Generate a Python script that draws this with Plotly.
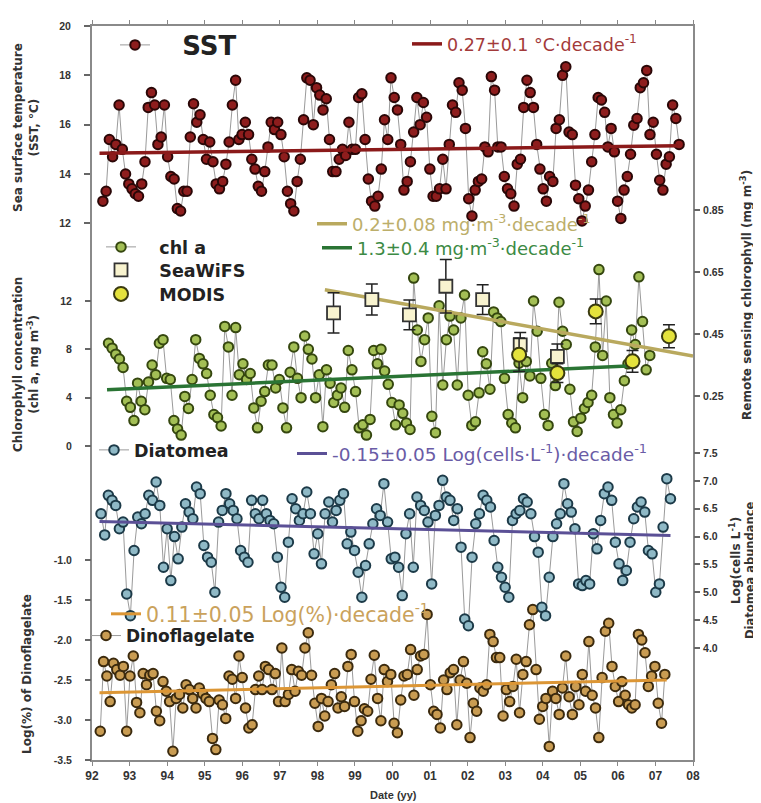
import plotly.graph_objects as go

# ---------------- data ----------------
year_ticks = [92, 93, 94, 95, 96, 97, 98, 99, 100, 101, 102, 103, 104, 105, 106, 107, 108]
year_labels = ["92", "93", "94", "95", "96", "97", "98", "99", "00", "01", "02", "03",
               "04", "05", "06", "07", "08"]

sst_span = [92.29, 107.63]
sst = [12.9, 13.3, 15.4, 14.7, 15.2, 16.8, 15.0, 14.0,
       13.6, 13.4, 13.2, 13.1, 13.6, 14.5, 16.7, 17.3, 16.8, 15.2, 15.5, 16.8, 14.7, 13.9, 13.8,
       12.6, 12.5, 13.3, 13.3, 15.5, 16.85, 16.1, 16.4, 15.4, 14.6, 15.3, 14.5,
       13.6, 13.4, 13.7, 14.4, 15.3, 16.8, 17.8, 15.4, 15.6, 16.1, 15.6, 14.6,
       14.2, 13.5, 13.3, 14.1, 15.1, 16.1, 15.8, 16.1, 15.6, 14.7, 13.3, 12.8,
       12.5, 13.7, 14.6, 16.2, 17.9, 17.8, 16.0, 17.5, 17.2, 16.6, 17.05, 15.4,
       14.1, 14.1, 14.6, 15.0, 14.75, 16.1, 15.0, 15.0, 17.1, 17.25, 15.4, 13.8,
       12.9, 12.7, 13.1, 14.2, 16.2, 15.4, 17.9, 17.1, 16.6, 15.2,
       13.35, 13.7, 14.5, 15.7, 17.1, 16.0, 16.9, 16.3, 14.2, 13.1, 13.1,
       13.4, 14.6, 13.4, 15.2, 16.8, 16.5, 17.7, 17.4, 15.85, 13.0, 12.3, 13.35,
       13.7, 13.8, 15.1, 14.9, 17.95, 17.4, 15.1, 15.1, 13.9, 13.4, 13.2, 12.7,
       14.4, 14.6, 16.7, 17.8, 17.3, 16.7, 15.2, 14.2, 13.4, 12.9,
       13.9, 13.7, 15.85, 16.2, 18.0, 18.35, 15.7, 15.6, 13.55, 13.0,
       12.1, 12.7, 13.35, 14.5, 15.6, 17.1, 17.0, 16.5, 15.1, 15.85, 14.9, 12.9, 12.2,
       13.35, 13.9, 14.8, 15.98, 16.25, 17.5, 17.7, 18.2, 15.6, 16.1, 14.8,
       13.75, 13.35, 14.4, 14.7, 16.8, 16.25, 15.2]

chl_span = [92.44, 106.85]
chl = [8.5, 8.1, 7.6, 7.2, 6.5, 3.7, 3.2, 2.1, 5.2, 3.7, 3.0, 5.3, 6.7, 5.9, 8.5, 8.8, 5.6, 5.5,
       2.1, 1.4, 0.9, 4.1, 3.1, 5.5, 8.8, 7.25, 6.8, 6.0, 4.2, 2.6, 2.35, 1.65, 9.9, 8.2, 4.2, 9.8,
       5.9, 6.8, 5.5, 6.0, 3.15, 1.5, 3.7, 4.5, 6.7, 6.7, 4.8, 5.5, 3.15, 1.5, 6.1, 8.2, 5.6, 4.0,
       9.1, 8.0, 7.2, 4.0, 5.9, 1.6, 6.3, 5.2, 3.6, 4.2, 4.8, 3.2, 7.9, 6.3, 4.5, 1.5, 1.75, 0.9,
       2.2, 7.9, 6.8, 8.0, 6.2, 5.1, 3.6, 1.75,
       3.4, 2.7, 1.9, 1.36, 13.9, 9.6, 7.0, 8.8, 10.6, 2.45, 1.1, 11.6, 5.05, 8.8, 10.75, 9.6,
       5.05, 10.6, 12.5, 4.2, 1.7, 2.0, 4.4, 7.8, 6.8, 4.7, 11.1, 10.6, 10.3, 5.6, 2.6, 1.9, 1.5,
       6.85, 4.0, 7.0, 5.8, 12.0, 9.5, 5.6, 2.6, 1.7, 6.85, 5.0, 11.9, 9.5, 8.4, 4.7, 2.0, 1.2,
       2.3, 3.1, 3.6, 4.2, 8.2, 14.6, 7.5, 12.0, 4.0, 2.6, 1.9, 3.0, 5.4, 6.8, 9.6, 8.4, 14.0,
       10.3, 6.3, 7.5]

seawifs_x = [98.43, 99.45, 100.45, 101.42, 102.40, 103.40, 104.39]
seawifs_y = [0.518, 0.561, 0.512, 0.604, 0.561, 0.415, 0.378]
seawifs_err = [0.065, 0.05, 0.048, 0.086, 0.048, 0.04, 0.04]

modis_x = [103.37, 104.39, 105.41, 106.39, 107.36]
modis_y = [0.383, 0.324, 0.523, 0.362, 0.443]
modis_err = [0.054, 0.03, 0.04, 0.035, 0.037]

dia_span = [92.24, 107.40]
diatom = [6.41, 6.03, 6.74, 6.65, 6.56, 6.14, 6.26, 4.97, 4.58, 5.75, 6.35, 6.23, 6.41, 6.74,
          6.65, 6.98, 6.56, 5.45, 6.14, 5.21, 6.0, 5.6, 6.17, 6.59, 6.44, 6.32, 6.89, 6.77,
          5.84, 5.63, 5.54, 5.0, 6.26, 6.47, 6.77, 6.59, 6.47, 6.32, 5.75, 5.63, 5.54, 6.65,
          6.41, 6.32, 6.65, 6.41, 6.29, 6.23, 5.63, 5.09, 4.91, 5.9, 6.68, 6.5, 6.29, 6.41,
          6.8, 6.41, 5.69, 6.05, 5.51, 6.41, 6.62, 6.26, 6.47, 6.65, 6.77, 5.87, 6.08, 5.75,
          5.36, 4.91, 5.48, 5.87, 6.23, 6.5, 6.38, 6.95, 6.26, 5.6,
          5.63, 5.45, 4.94, 6.05, 6.41, 5.45, 6.71, 6.56, 6.47, 6.26, 5.15, 6.38, 6.56, 7.01,
          6.71, 6.65, 6.29, 6.5, 5.81, 4.52, 4.4, 5.63, 6.23, 6.41, 6.74, 6.65, 6.53, 5.93,
          5.45, 5.27, 5.09, 4.91, 6.29, 6.41, 6.47, 6.68, 6.62, 6.41, 6.0, 5.72, 4.73, 4.58,
          5.27, 6.0, 6.23, 6.41, 6.95, 6.59, 6.44, 6.14, 5.15, 5.12, 5.21, 5.15, 6.05, 5.78,
          6.29, 6.77, 6.89, 6.65, 5.9, 5.51, 5.21, 5.39, 5.9, 6.32, 6.53, 6.62, 6.44, 5.75,
          5.69, 5.0, 5.15, 6.17, 7.04, 6.68]

dino_span = [92.22, 107.25]
dino = [-3.14, -2.27, -2.45, -2.77, -2.29, -2.37, -2.44, -2.33, -3.14, -2.45, -2.2, -2.78,
        -2.91, -2.42, -2.56, -2.44, -2.42, -2.89, -3.01, -2.52, -2.64, -2.77, -3.39, -2.73,
        -2.68, -2.85, -2.56, -2.62, -2.73, -2.85, -2.6, -2.67, -2.73, -2.77, -3.23, -3.37,
        -2.75, -2.81, -2.98, -2.45, -2.49, -2.73, -2.2, -2.47, -2.85, -3.1, -3.06, -2.62,
        -2.45, -2.62, -2.33, -2.37, -2.62, -2.42, -2.77, -2.1, -2.77, -2.68, -2.37, -2.64,
        -2.39, -2.44, -2.1, -1.91, -2.44, -2.79, -3.08, -2.73, -2.95, -2.77, -2.56, -2.42,
        -2.85, -2.71, -2.83, -2.33, -2.18, -2.77, -3.14, -3.01, -2.86, -2.89, -2.49, -2.19,
        -2.73, -3.01, -2.37, -2.52,
        -2.43, -3.04, -3.16, -2.75, -2.45, -2.43, -2.12, -2.69, -2.37, -2.2, -2.18, -1.68,
        -2.56, -2.89, -2.93, -3.1, -2.5, -2.62, -2.41, -2.37, -3.06, -2.5, -2.27, -2.54,
        -3.22, -2.79, -2.89, -2.6, -2.64, -2.56, -1.93, -2.02, -2.22, -2.22, -2.95, -2.62,
        -2.77, -2.58, -2.24, -2.91, -2.43, -2.27, -1.81, -1.62, -2.37, -2.99, -2.83, -2.73,
        -3.33, -2.64, -2.73, -2.93, -2.6, -2.2, -2.71, -2.93, -2.58, -2.81, -2.43, -2.64,
        -2.02, -2.69, -2.85, -3.22, -2.47, -1.89, -1.79, -2.33, -2.58, -2.77, -2.52, -2.69,
        -2.81, -2.85, -2.81, -1.93, -2.0, -2.16, -2.58, -2.45, -2.33, -2.79, -3.04, -2.43]

sst_trend_x, sst_trend_y = [92.2, 107.6], [14.84, 15.15]
chl_trend_x, chl_trend_y = [92.4, 106.4], [4.65, 6.65]
rs_trend_x, rs_trend_y = [98.2, 108.0], [0.593, 0.379]
dia_trend_x, dia_trend_y = [92.2, 107.4], [6.27, 6.02]
dino_trend_x, dino_trend_y = [92.2, 107.3], [-2.66, -2.50]


def spread(span, n):
    a, b = span
    return [a + (b - a) * i / (n - 1) for i in range(n)]


FONT = "Liberation Sans, Arial, sans-serif"
WIDE = "DejaVu Sans, Verdana, sans-serif"
GRAY = "#9a9a9a"
NB = "\u00a0"

fig = go.Figure()

# SST
fig.add_trace(go.Scatter(x=spread(sst_span, len(sst)), y=sst, yaxis="y", mode="lines+markers",
                         name=NB * 3 + "SST", legend="legend",
                         line=dict(color=GRAY, width=1),
                         marker=dict(symbol="circle", size=9.5, color="#8e1d1d",
                                     line=dict(color="#2a0707", width=2))))
fig.add_trace(go.Scatter(x=sst_trend_x, y=sst_trend_y, yaxis="y", mode="lines",
                         name="0.27±0.1 °C·decade<sup>-1</sup>", legend="legend2",
                         line=dict(color="#8b1a1a", width=3.5)))

# chl a
fig.add_trace(go.Scatter(x=spread(chl_span, len(chl)), y=chl, yaxis="y2", mode="lines+markers",
                         name=NB * 3 + "chl a", legend="legend5",
                         line=dict(color=GRAY, width=1),
                         marker=dict(symbol="circle", size=9.5, color="#a3bf55",
                                     line=dict(color="#35470f", width=2))))
fig.add_trace(go.Scatter(x=chl_trend_x, y=chl_trend_y, yaxis="y2", mode="lines",
                         name="1.3±0.4 mg·m<sup>-3</sup>·decade<sup>-1</sup>", legend="legend4",
                         line=dict(color="#2a7434", width=3.5)))
fig.add_trace(go.Scatter(x=rs_trend_x, y=rs_trend_y, yaxis="y4", mode="lines",
                         name="0.2±0.08 mg·m<sup>-3</sup>·decade<sup>-1</sup>", legend="legend3",
                         line=dict(color="#b9a95e", width=3.5)))
fig.add_trace(go.Scatter(x=seawifs_x, y=seawifs_y, yaxis="y4", mode="markers",
                         name=NB * 3 + "SeaWiFS", legend="legend10",
                         error_y=dict(type="data", array=seawifs_err, color="#222",
                                      thickness=1.5, width=6),
                         marker=dict(symbol="square", size=13, color="#f8f3cf",
                                     line=dict(color="#333", width=1.8))))
fig.add_trace(go.Scatter(x=modis_x, y=modis_y, yaxis="y4", mode="markers",
                         name=NB * 3 + "MODIS", legend="legend11",
                         error_y=dict(type="data", array=modis_err, color="#222",
                                      thickness=1.5, width=6),
                         marker=dict(symbol="circle", size=14, color="#e4e23c",
                                     line=dict(color="#3a3a10", width=2))))

# Diatomea
fig.add_trace(go.Scatter(x=spread(dia_span, len(diatom)), y=diatom, yaxis="y5",
                         mode="lines+markers", name="Diatomea", legend="legend6",
                         line=dict(color=GRAY, width=1),
                         marker=dict(symbol="circle", size=9.5, color="#8fb9c6",
                                     line=dict(color="#1c3a48", width=2))))
fig.add_trace(go.Scatter(x=dia_trend_x, y=dia_trend_y, yaxis="y5", mode="lines",
                         name="-0.15±0.05 Log(cells·L<sup>-1</sup>)·decade<sup>-1</sup>",
                         legend="legend7", line=dict(color="#5b5096", width=3)))

# Dinoflagellate
fig.add_trace(go.Scatter(x=spread(dino_span, len(dino)), y=dino, yaxis="y3",
                         mode="lines+markers", name="Dinoflagelate", legend="legend9",
                         line=dict(color=GRAY, width=1),
                         marker=dict(symbol="circle", size=9.5, color="#c99c52",
                                     line=dict(color="#3b2a0e", width=2))))
fig.add_trace(go.Scatter(x=dino_trend_x, y=dino_trend_y, yaxis="y3", mode="lines",
                         name="0.11±0.05 Log(%)·decade<sup>-1</sup>", legend="legend8",
                         line=dict(color="#dc9635", width=3)))

# -------- layout --------
W, H = 761, 803
L, R, T, B = 84, 76, 18, 51
PW, PH = W - L - R, H - T - B


def px(xp):
    return (xp - L) / PW


def py(yp):
    return 1 - (yp - T) / PH


tickfont = dict(family=FONT, size=10.5, color="#333", weight="bold")


def yax(rng, vals, texts, side="left", overlay=True, main=False):
    d = dict(range=rng, tickvals=vals, ticktext=texts, tickfont=tickfont, showgrid=False,
             zeroline=False, ticks="outside", ticklen=6, tickcolor="#666", tickwidth=1.5,
             side=side, ticklabelstandoff=11 if side == "left" else 1)
    if overlay:
        d.update(overlaying="y", anchor="x")
    if main:
        d.update(showline=True, linecolor="#8a8a8a", linewidth=2, mirror=True)
    else:
        d.update(showline=False)
    return d


def legend(xpx, ypx, color, size, bold=False, yanchor="middle", itemwidth=30, family=WIDE):
    f = dict(family=family, size=size, color=color)
    if bold:
        f["weight"] = "bold"
    return dict(x=px(xpx), y=py(ypx), xanchor="left", yanchor=yanchor,
                bgcolor="rgba(0,0,0,0)", borderwidth=0, font=f, itemwidth=itemwidth,
                itemsizing="trace", tracegroupgap=0)


fig.update_layout(
    width=W, height=H,
    margin=dict(l=L, r=R, t=T, b=B),
    paper_bgcolor="white", plot_bgcolor="white",
    font=dict(family=FONT),
    showlegend=True,
    xaxis=dict(range=[92, 108], tickvals=year_ticks, ticktext=year_labels,
               tickfont=dict(family=FONT, size=12, color="#333", weight="bold"),
               showgrid=False, zeroline=False, showline=True, linecolor="#8a8a8a",
               linewidth=2, mirror="ticks", ticks="outside", ticklen=4, tickcolor="#888"),
    yaxis=yax([-9.75, 20.0], [12, 14, 16, 18, 20], ["12", "14", "16", "18", "20"],
              overlay=False, main=True),
    yaxis2=yax([-26.0, 34.77], [0, 4, 8, 12], ["0", "4", "8", "12"]),
    yaxis3=yax([-3.5, 5.675], [-3.5, -3.0, -2.5, -2.0, -1.5, -1.0],
               ["-3.5", "-3.0", "-2.5", "-2.0", "-1.5", "-1.0"]),
    yaxis4=yax([-0.924, 1.4435], [0.25, 0.45, 0.65, 0.85], ["0.25", "0.45", "0.65", "0.85"],
               side="right"),
    yaxis5=yax([1.989, 15.166], [4.0, 4.5, 5.0, 5.5, 6.0, 6.5, 7.0, 7.5],
               ["4.0", "4.5", "5.0", "5.5", "6.0", "6.5", "7.0", "7.5"], side="right"),
    legend=legend(107, 37, "#222", 26, bold=True),
    legend2=legend(399, 36, "#a33a3a", 17.5),
    legend3=legend(304, 216, "#bcae6a", 18),
    legend4=legend(309, 240, "#3c8a44", 18),
    legend5=legend(93, 239, "#222", 17.5, bold=True),
    legend10=legend(93, 262, "#222", 17.5, bold=True),
    legend11=legend(93, 286, "#222", 17.5, bold=True),
    legend6=legend(86, 442, "#222", 17.5, bold=True),
    legend7=legend(284, 446, "#6a5ca6", 18.5),
    legend8=legend(98, 606, "#caa25c", 20.5),
    legend9=legend(78, 628, "#222", 17, bold=True),
)

ann_font = dict(family=WIDE, size=12, color="#333", weight="bold")
annotations = [
    dict(text="Sea surface temperature<br>(SST, °C)", x=px(18), y=py(120)),
    dict(text="Chlorophyll concentration<br>(chl a, mg m<sup>-3</sup>)", x=px(18), y=py(357)),
    dict(text="Log(%) of Dinoflagelate", x=px(19), y=py(666)),
    dict(text="Remote sensing chlorophyll (mg m<sup>-3</sup>)", x=px(738), y=py(287),
         font=dict(family=WIDE, size=12, color="#333", weight="bold")),
    dict(text="Log(cells L<sup>-1</sup>)", x=px(727), y=py(553)),
    dict(text="Diatomea abundance", x=px(742), y=py(562),
         font=dict(family=WIDE, size=11.5, color="#333", weight="bold")),
]
for a in annotations:
    f = a.pop("font", ann_font)
    fig.add_annotation(xref="paper", yref="paper", textangle=-90, showarrow=False,
                       xanchor="center", yanchor="middle", font=f, **a)
fig.add_annotation(text="Date (yy)", xref="paper", yref="paper", x=px(385), y=py(787),
                   showarrow=False, xanchor="center", yanchor="middle",
                   font=dict(family=FONT, size=11, color="#333", weight="bold"))

fig.write_html("out.html")
